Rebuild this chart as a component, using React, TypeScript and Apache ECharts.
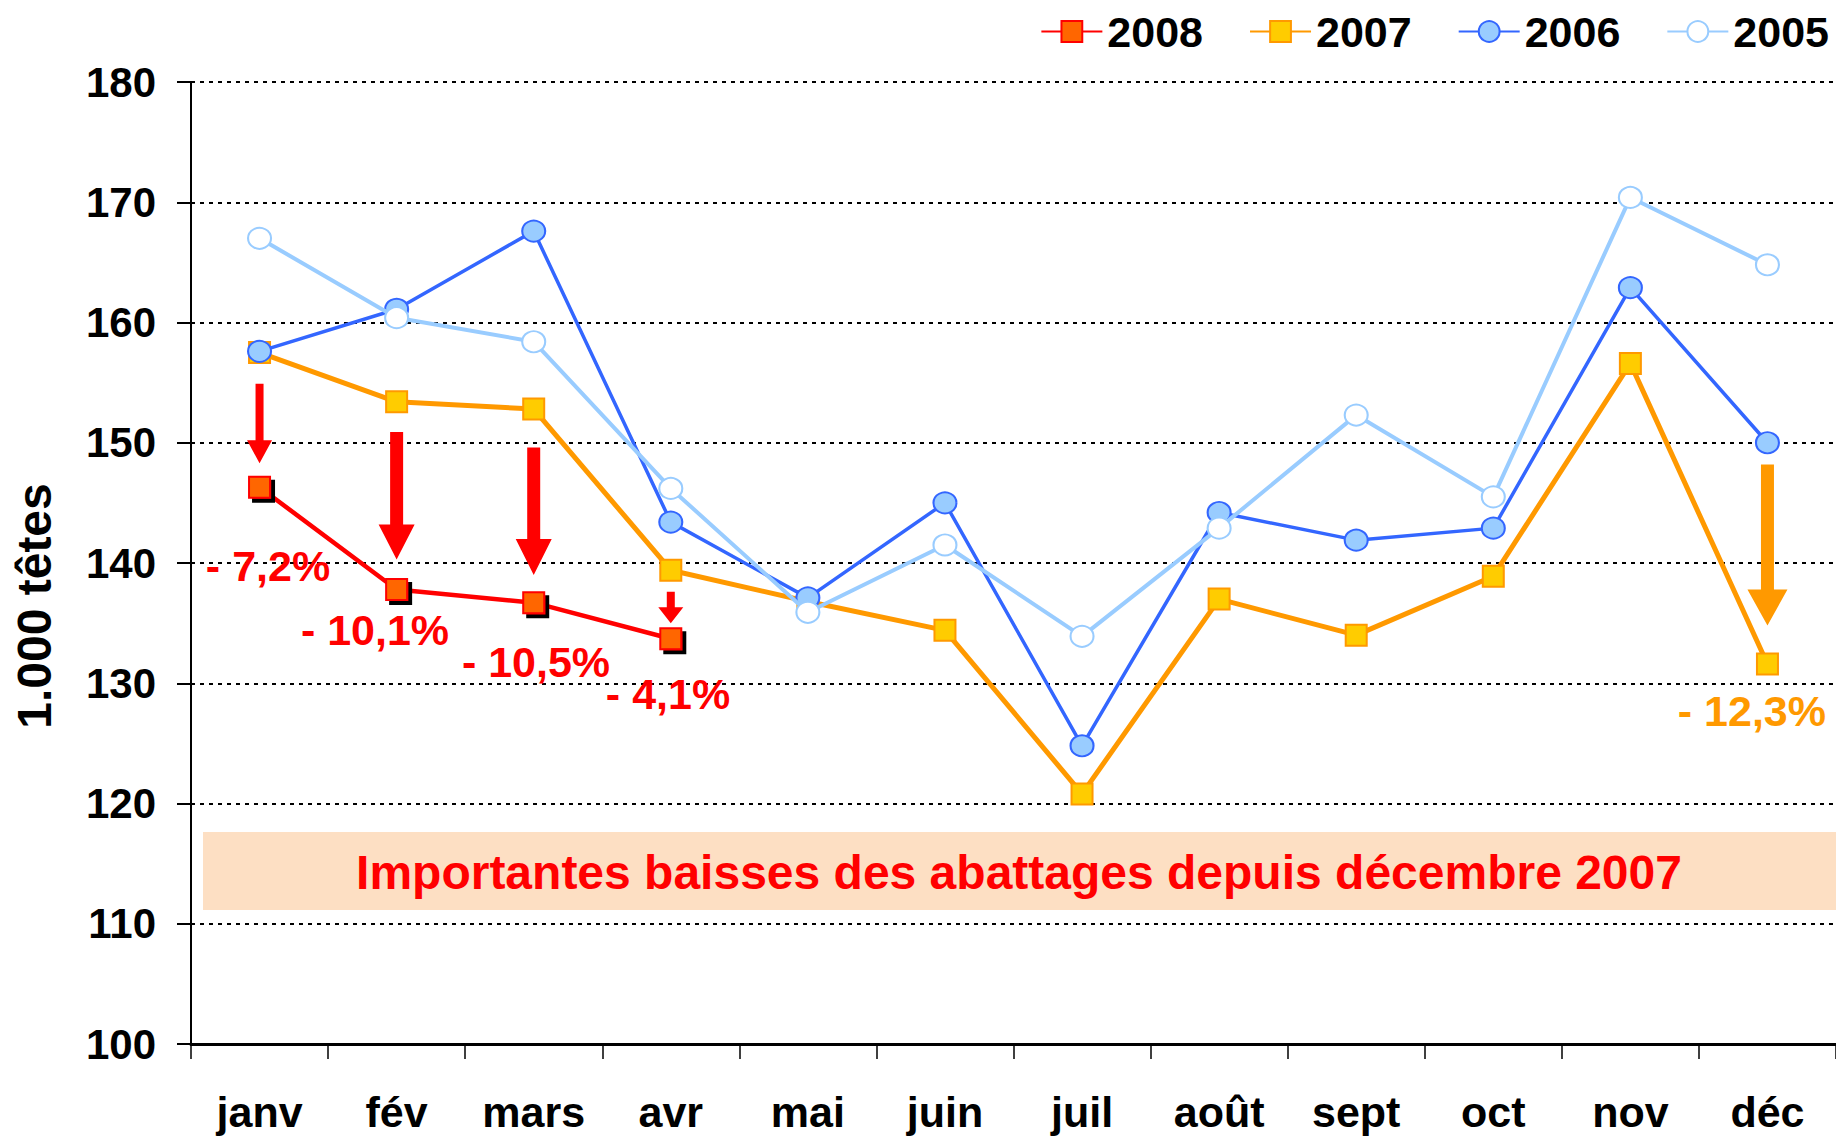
import React, { useEffect, useRef } from "react";
import * as echarts from "echarts";

const months = ["janv", "fév", "mars", "avr", "mai", "juin", "juil", "août", "sept", "oct", "nov", "déc"];
const yTicks = [100, 110, 120, 130, 140, 150, 160, 170, 180];

const s2008 = [146.3, 137.8, 136.7, 133.7];
const s2007 = [157.5, 153.4, 152.8, 139.4, 136.8, 134.4, 120.8, 137.0, 134.0, 138.9, 156.6, 131.6];
const s2006 = [157.6, 161.1, 167.6, 143.4, 137.1, 145.0, 124.8, 144.2, 141.9, 142.9, 162.9, 150.0];
const s2005 = [167.0, 160.4, 158.4, 146.2, 135.9, 141.5, 133.9, 142.9, 152.3, 145.5, 170.4, 164.8];

// arrows: [category index, start value, tip value]
const arrows = [
  [0, 154.9, 148.3],
  [1, 150.9, 140.3],
  [2, 149.6, 139.0],
  [3, 137.6, 135.0],
  [11, 148.2, 134.8],
];
const arrowLabels = ["- 7,2%", "- 10,1%", "- 10,5%", "- 4,1%", "- 12,3%"];
const bannerText = "Importantes baisses des abattages depuis décembre 2007";

const RED = "#FF0000";
const ORANGE = "#FF9900";
const FONT = "'Liberation Sans', Arial, sans-serif";

// arrow styles (shaft width, head width, head length, color)
const arrowStyles = [
  { sw: 8, hw: 25, hl: 23, c: RED },
  { sw: 13, hw: 36, hl: 35, c: RED },
  { sw: 13, hw: 36, hl: 36, c: RED },
  { sw: 8, hw: 25, hl: 16, c: RED },
  { sw: 13, hw: 40, hl: 36, c: ORANGE },
];
const labelPos: [number, number, string, string][] = [
  [268, 566, RED, "center"],
  [375, 630, RED, "center"],
  [536, 662, RED, "center"],
  [668, 694, RED, "center"],
  [1826, 711, ORANGE, "right"],
];

export default function App() {
  const ref = useRef<HTMLDivElement>(null);
  useEffect(() => {
    if (!ref.current) return;
    const chart = echarts.init(ref.current, undefined, { renderer: "svg" });
    const option: any = {
      animation: false,
      backgroundColor: "#fff",
      textStyle: { fontFamily: FONT },
      grid: { left: 191, right: 0, top: 82, bottom: 92, containLabel: false, outerBoundsMode: "none" },
      legend: {
        data: ["2008", "2007", "2006", "2005"],
        right: 2,
        top: 5,
        itemWidth: 61,
        itemHeight: 26,
        itemGap: 46,
        textStyle: { fontSize: 43, fontWeight: "bold", color: "#000", fontFamily: FONT },
      },
      xAxis: {
        type: "category",
        data: months,
        boundaryGap: true,
        axisLine: { lineStyle: { color: "#000", width: 3 } },
        axisTick: { show: true, alignWithLabel: false, length: 15, lineStyle: { color: "#000", width: 1.5 } },
        axisLabel: { fontSize: 43, fontWeight: "bold", color: "#000", margin: 46, fontFamily: FONT, interval: 0 },
        splitLine: { show: false },
      },
      yAxis: {
        type: "value",
        min: 100,
        max: 180,
        interval: 10,
        axisLine: { show: true, lineStyle: { color: "#000", width: 2 } },
        axisTick: { show: true, length: 14, lineStyle: { color: "#000", width: 2 } },
        axisLabel: { fontSize: 42, fontWeight: "bold", color: "#000", margin: 35, fontFamily: FONT },
        splitLine: { show: true, lineStyle: { color: "#000", width: 2, type: [4, 5] } },
      },
      graphic: [
        {
          type: "rect",
          z: 0,
          silent: true,
          shape: { x: 203, y: 832, width: 1640, height: 78 },
          style: { fill: "#FDDFC3" },
        },
        {
          type: "text",
          z: 1,
          silent: true,
          x: 1019,
          y: 872,
          style: {
            text: bannerText,
            fill: RED,
            font: `bold 48px ${FONT}`,
            textAlign: "center",
            textVerticalAlign: "middle",
          },
        },
        {
          type: "text",
          silent: true,
          x: 34,
          y: 606,
          rotation: Math.PI / 2,
          style: {
            text: "1.000 têtes",
            fill: "#000",
            font: `bold 48px ${FONT}`,
            textAlign: "center",
            textVerticalAlign: "middle",
          },
        },
        ...arrowLabels.map((t, i) => ({
          type: "text",
          silent: true,
          z: 10,
          x: labelPos[i][0],
          y: labelPos[i][1],
          style: {
            text: t,
            fill: labelPos[i][2],
            font: `bold 43px ${FONT}`,
            textAlign: labelPos[i][3],
            textVerticalAlign: "middle",
          },
        })),
      ],
      series: [
        {
          name: "2008",
          type: "line",
          data: s2008,
          z: 5,
          symbol: "rect",
          symbolSize: 21,
          lineStyle: { color: RED, width: 4.5 },
          itemStyle: {
            color: "#FF6600",
            borderColor: RED,
            borderWidth: 2,
            shadowColor: "#000",
            shadowOffsetX: 4,
            shadowOffsetY: 4,
            shadowBlur: 0,
          },
        },
        {
          name: "2007",
          type: "line",
          data: s2007,
          z: 2,
          symbol: "rect",
          symbolSize: 21,
          lineStyle: { color: ORANGE, width: 5 },
          itemStyle: { color: "#FFCC00", borderColor: ORANGE, borderWidth: 2 },
        },
        {
          name: "2006",
          type: "line",
          data: s2006,
          z: 3,
          symbol: "circle",
          symbolSize: [23, 21],
          lineStyle: { color: "#3366FF", width: 3.5 },
          itemStyle: { color: "#99CCFF", borderColor: "#3366FF", borderWidth: 2 },
        },
        {
          name: "2005",
          type: "line",
          data: s2005,
          z: 4,
          symbol: "circle",
          symbolSize: [23, 21],
          lineStyle: { color: "#99CCFF", width: 4 },
          itemStyle: { color: "#FFFFFF", borderColor: "#99CCFF", borderWidth: 2 },
        },
        {
          name: "arrows",
          type: "custom",
          z: 6,
          silent: true,
          data: arrows,
          encode: { x: 0, y: [1, 2] },
          renderItem: (params: any, api: any) => {
            const st = arrowStyles[params.dataIndex];
            const top = api.coord([api.value(0), api.value(1)]);
            const tip = api.coord([api.value(0), api.value(2)]);
            const x = top[0];
            const sw = st.sw / 2;
            const hw = st.hw / 2;
            const hy = tip[1] - st.hl;
            return {
              type: "polygon",
              shape: {
                points: [
                  [x - sw, top[1]],
                  [x + sw, top[1]],
                  [x + sw, hy],
                  [x + hw, hy],
                  [x, tip[1]],
                  [x - hw, hy],
                  [x - sw, hy],
                ],
              },
              style: { fill: st.c },
            };
          },
        },
      ],
    };
    chart.setOption(option);
    return () => chart.dispose();
  }, []);
  return (
    <div
      ref={ref}
      style={{ position: "absolute", left: 0, top: 0, width: 1836, height: 1136 }}
    />
  );
}
